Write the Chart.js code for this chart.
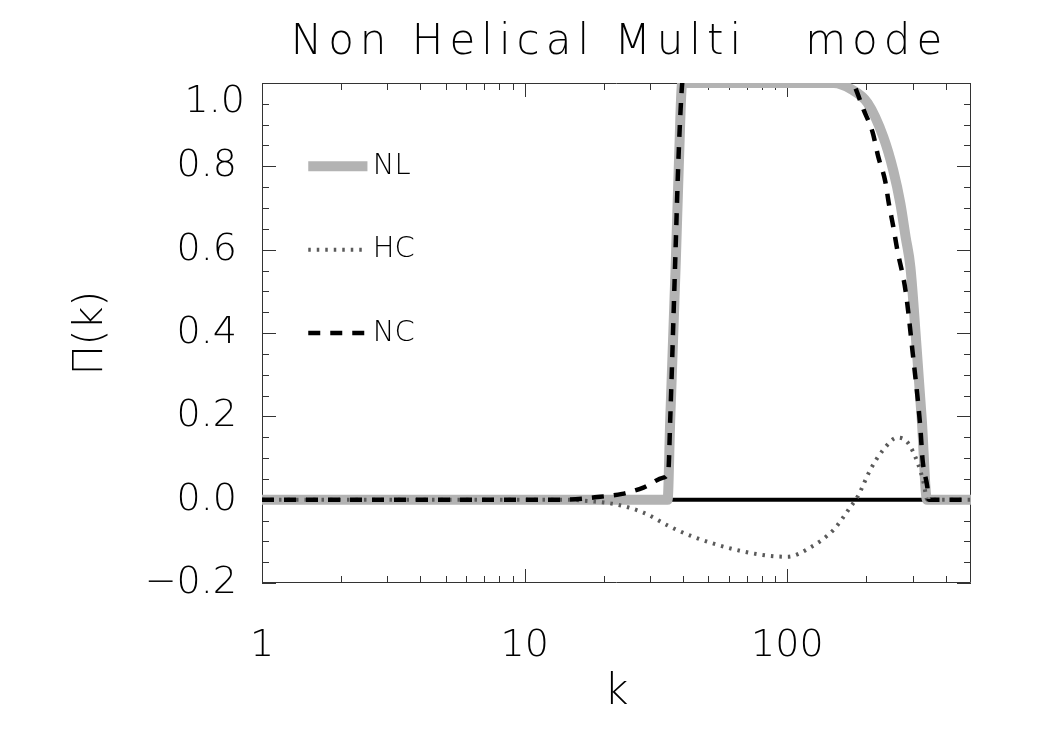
<!DOCTYPE html>
<html>
<head>
<meta charset="utf-8">
<script src="https://cdn.jsdelivr.net/npm/chart.js@4.4.1/dist/chart.umd.min.js"></script>
<style>
html, body { margin: 0; padding: 0; background: #ffffff; }
#wrap { width: 1050px; height: 750px; }
</style>
</head>
<body>
<div id="wrap"><canvas id="c" width="1050" height="750"></canvas></div>
<script>
// ---- text ----
const titleText = 'Non Helical Multi   mode';
const xTitle = 'k';
const yTitle = 'Π(k)';

// ---- ticks ----
const xTickValues = [1, 10, 100];
const xTickLabels = ['1', '10', '100'];
const xMinorTicks = [2, 3, 4, 5, 6, 7, 8, 9, 20, 30, 40, 50, 60, 70, 80, 90, 200, 300, 400];
const yTickValues = [-0.2, 0, 0.2, 0.4, 0.6, 0.8, 1.0];
const yTickLabels = ['\u22120.2', '0.0', '0.2', '0.4', '0.6', '0.8', '1.0'];
const yMinorTicks = [-0.15, -0.1, -0.05, 0.05, 0.1, 0.15, 0.25, 0.3, 0.35, 0.45, 0.5, 0.55, 0.65, 0.7, 0.75, 0.85, 0.9, 0.95];

// ---- series ----
const nlK = [1, 35, 35.8, 37.6, 38.6, 39.8, 150, 175, 202, 232, 253, 269, 282, 294, 310, 325, 340, 500];
const nlV = [0, 0, 0.19, 0.57, 0.80, 1.0, 1.0, 0.985, 0.952, 0.87, 0.79, 0.712, 0.63, 0.558, 0.37, 0.19, 0, 0];

const hcK = [1, 14, 18, 22.5, 28.3, 35.8, 43.8, 59, 79, 100, 122, 150, 174, 185, 207, 232, 262, 287, 313, 330, 341, 500];
const hcV = [0, 0, -0.004, -0.012, -0.031, -0.065, -0.089, -0.115, -0.132, -0.137, -0.115, -0.072, -0.017, 0.007, 0.072, 0.12, 0.149, 0.137, 0.089, 0.041, 0, 0];

const ncK = [1, 14, 19.4, 23.5, 28.3, 33.7, 35.2, 35.8, 37.4, 38.4, 39.4, 40.2, 42, 60, 100, 150, 178, 195, 211, 222, 236, 243, 253, 262, 282, 299, 321, 327, 341, 345, 500];
const ncV = [0, 0, 0.007, 0.014, 0.029, 0.053, 0.067, 0.19, 0.57, 0.80, 0.96, 1.03, 1.08, 1.12, 1.12, 1.07, 1.0, 0.936, 0.882, 0.822, 0.763, 0.713, 0.655, 0.6, 0.5, 0.36, 0.17, 0.096, 0.03, 0, 0];

const zeroK = [1, 500];
const zeroV = [0, 0];

const seriesLabels = ['NL', 'HC', 'NC'];

// ---- styling ----
const FAMILY = '"DejaVu Sans", "Lato", sans-serif';
const WEIGHT = 200;
const INK = '#000000';

function pts(ks, vs) { return ks.map((k, i) => ({ x: k, y: vs[i] })); }

const styleNL = { color: '#b3b3b3', width: 10, dash: [] };
const styleHC = { color: '#5a5a5a', width: 4, dash: [2.5, 6] };
const styleNC = { color: '#000000', width: 4.5, dash: [12, 10] };

const decorPlugin = {
  id: 'decor',
  beforeDatasetsDraw(chart) {
    const { ctx, chartArea: a, scales: { x, y } } = chart;
    ctx.save();
    ctx.strokeStyle = '#333333';
    ctx.lineWidth = 1;
    ctx.beginPath();
    ctx.rect(a.left + 0.5, a.top + 0.5, a.right - a.left - 1, a.bottom - a.top - 1);
    const xt = xTickValues.map(v => [v, 14]).concat(xMinorTicks.map(v => [v, 7]));
    xt.forEach(([v, len]) => {
      const px = Math.round(x.getPixelForValue(v)) + 0.5;
      ctx.moveTo(px, a.bottom); ctx.lineTo(px, a.bottom - len);
      ctx.moveTo(px, a.top); ctx.lineTo(px, a.top + len);
    });
    const yt = yTickValues.map(v => [v, 14]).concat(yMinorTicks.map(v => [v, 7]));
    yt.forEach(([v, len]) => {
      const py = Math.round(y.getPixelForValue(v)) + 0.5;
      ctx.moveTo(a.left, py); ctx.lineTo(a.left + len, py);
      ctx.moveTo(a.right, py); ctx.lineTo(a.right - len, py);
    });
    ctx.stroke();
    ctx.restore();
  },
  afterDatasetsDraw(chart) {
    const { ctx, chartArea: a, scales: { x, y } } = chart;
    ctx.save();
    // legend (placed in data space like the original)
    const legY = [0.8, 0.6, 0.4];
    const styles = [styleNL, styleHC, styleNC];
    const x0 = x.getPixelForValue(1.5), x1 = x.getPixelForValue(2.52), xt = x.getPixelForValue(2.64);
    styles.forEach((s, i) => {
      const py = y.getPixelForValue(legY[i]);
      ctx.beginPath();
      ctx.strokeStyle = s.color;
      ctx.lineWidth = s.width;
      ctx.setLineDash(s.dash);
      ctx.lineCap = 'butt';
      ctx.moveTo(x0, py); ctx.lineTo(x1, py);
      ctx.stroke();
      ctx.setLineDash([]);
      ctx.fillStyle = INK;
      ctx.font = WEIGHT + ' 29px ' + FAMILY;
      ctx.textAlign = 'left';
      ctx.textBaseline = 'middle';
      ctx.fillText(seriesLabels[i], xt, py);
    });
    // title
    ctx.font = WEIGHT + ' 42px ' + FAMILY;
    if ('letterSpacing' in ctx) ctx.letterSpacing = '6px';
    ctx.textAlign = 'center';
    ctx.textBaseline = 'middle';
    ctx.fillStyle = INK;
    ctx.fillText(titleText, (a.left + a.right) / 2 + 3, 43);
    if ('letterSpacing' in ctx) ctx.letterSpacing = '0px';
    // top y label, shifted inside as in the original
    ctx.font = WEIGHT + ' 38px ' + FAMILY;
    ctx.textAlign = 'right';
    ctx.fillText(yTickLabels[yTickLabels.length - 1], a.left - 17, y.getPixelForValue(1.0) + 19);
    ctx.restore();
  }
};

new Chart(document.getElementById('c'), {
  type: 'line',
  data: {
    datasets: [
      { label: 'NC', data: pts(ncK, ncV), borderColor: styleNC.color, borderWidth: styleNC.width, borderDash: styleNC.dash, order: 0, cubicInterpolationMode: 'monotone' },
      { label: 'HC', data: pts(hcK, hcV), borderColor: styleHC.color, borderWidth: styleHC.width, borderDash: styleHC.dash, order: 1, cubicInterpolationMode: 'monotone' },
      { label: 'NL', data: pts(nlK, nlV), borderColor: styleNL.color, borderWidth: styleNL.width, order: 2, cubicInterpolationMode: 'monotone', borderJoinStyle: 'miter' },
      { label: 'zero', data: pts(zeroK, zeroV), borderColor: '#000000', borderWidth: 4, order: 3 }
    ]
  },
  options: {
    responsive: false,
    animation: false,
    events: [],
    layout: { padding: { top: 83, right: 79, left: 0, bottom: 0 } },
    elements: { point: { radius: 0 }, line: { fill: false, borderCapStyle: 'butt' } },
    plugins: { legend: { display: false }, title: { display: false }, tooltip: { enabled: false } },
    scales: {
      x: {
        type: 'logarithmic', min: 1, max: 500,
        afterBuildTicks: s => { s.ticks = xTickValues.map(v => ({ value: v })); },
        afterFit: s => { s.height = 167; },
        grid: { display: false }, border: { display: false },
        ticks: {
          autoSkip: false, maxRotation: 0, padding: 32, color: INK,
          font: { family: FAMILY, size: 38, weight: WEIGHT },
          callback: (v) => { const i = xTickValues.indexOf(v); return i >= 0 ? xTickLabels[i] : ''; }
        },
        title: { display: true, text: xTitle, color: INK, font: { family: FAMILY, size: 42, weight: WEIGHT }, padding: { top: 0, bottom: 32 } }
      },
      y: {
        type: 'linear', min: -0.2, max: 1.0,
        afterBuildTicks: s => { s.ticks = yTickValues.map(v => ({ value: v })); },
        afterFit: s => { s.width = 262; },
        grid: { display: false }, border: { display: false },
        ticks: {
          autoSkip: false, padding: 17, color: INK,
          font: { family: FAMILY, size: 38, weight: WEIGHT },
          callback: (v, i) => (i === yTickValues.length - 1 ? '' : yTickLabels[i])
        },
        title: { display: true, text: yTitle, color: INK, font: { family: FAMILY, size: 40, weight: WEIGHT }, padding: { top: 68, bottom: 0 } }
      }
    }
  },
  plugins: [decorPlugin]
});
</script>
</body>
</html>
